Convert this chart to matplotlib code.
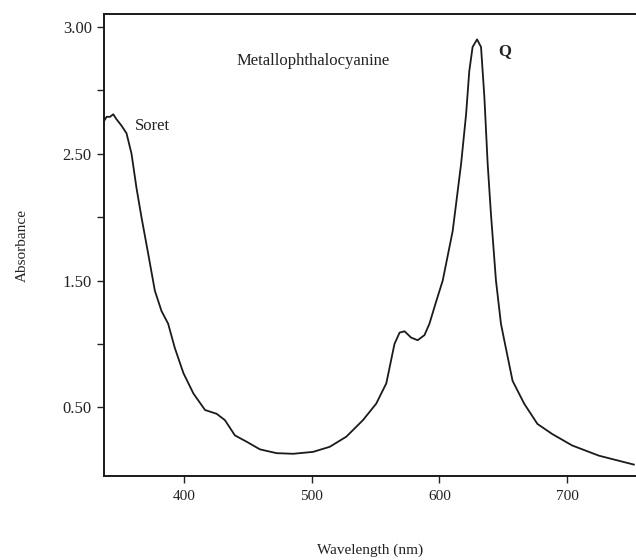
import numpy as np
from matplotlib import pyplot as plt
from matplotlib.ticker import FixedLocator, FixedFormatter

# Spectrum (wavelength in nm, absorbance in axis units)
wavelength = [337.5, 339.3, 342.0, 344.5, 347.1, 351.0, 354.9, 358.8, 362.7, 366.6,
              371.9, 377.1, 382.3, 387.5, 392.7, 399.5, 407.3, 416.4, 425.5, 432.0,
              439.8, 449.0, 459.4, 472.4, 485.4, 501.0, 514.1, 527.1, 540.1, 550.5,
              558.4, 564.8, 568.8, 572.7, 577.9, 583.0, 588.3, 592.2, 597.0, 602.6,
              610.4, 617.0, 620.9, 623.4, 626.0, 629.5, 632.6, 635.2, 637.8, 640.4,
              644.3, 648.2, 650.8, 657.3, 666.4, 676.8, 688.5, 704.1, 725.0, 752.3]
absorbance = [2.76, 2.79, 2.79, 2.81, 2.77, 2.72, 2.66, 2.50, 2.23, 2.00,
              1.71, 1.42, 1.26, 1.16, 0.97, 0.77, 0.61, 0.48, 0.45, 0.40,
              0.28, 0.23, 0.17, 0.14, 0.135, 0.15, 0.19, 0.27, 0.40, 0.53,
              0.69, 1.00, 1.09, 1.10, 1.05, 1.03, 1.07, 1.16, 1.32, 1.50,
              1.89, 2.42, 2.81, 3.15, 3.34, 3.40, 3.34, 2.95, 2.42, 2.02,
              1.50, 1.16, 1.03, 0.71, 0.53, 0.37, 0.29, 0.20, 0.12, 0.05]

x_ticks = [400, 500, 600, 700]
y_ticks = [0.5, 1.5, 2.5, 3.5]
y_tick_labels = ['0.50', '1.50', '2.50', '3.00']
y_minor = [1.0, 2.0, 3.0]

plt.rcParams['font.family'] = ['Liberation Serif', 'DejaVu Serif']

fig = plt.figure(figsize=(6.36, 5.6), dpi=100)
ax = fig.add_axes([0.164, 0.150, 0.836, 0.825])

ax.plot(wavelength, absorbance, color='#1a1a1a', linewidth=1.3)

ax.set_xlim(337.5, 754)
ax.set_ylim(-0.04, 3.6)

ax.xaxis.set_major_locator(FixedLocator(x_ticks))
ax.yaxis.set_major_locator(FixedLocator(y_ticks))
ax.yaxis.set_major_formatter(FixedFormatter(y_tick_labels))
ax.yaxis.set_minor_locator(FixedLocator(y_minor))

ax.tick_params(axis='both', which='both', direction='out', length=5, width=1.0,
               colors='#222222')
ax.tick_params(axis='x', pad=5, labelsize=11)
ax.tick_params(axis='y', pad=4, labelsize=12)

for side in ['left', 'bottom', 'top']:
    ax.spines[side].set_linewidth(1.4)
    ax.spines[side].set_color('#1a1a1a')
ax.spines['right'].set_visible(False)

ax.set_xlabel('Wavelength (nm)', fontsize=11, labelpad=29, color='#222222')
ax.set_ylabel('Absorbance', fontsize=11, labelpad=24, color='#222222')

ax.text(500.8, 3.23, 'Metallophthalocyanine', fontsize=12, ha='center',
        va='center', color='#222222')
ax.text(361.7, 2.72, 'Soret', fontsize=12, ha='left', va='center', color='#222222')
ax.text(650.8, 3.31, 'Q', fontsize=12, fontweight='bold', ha='center', va='center',
        color='#222222')

fig.savefig('out.png', dpi=100)
